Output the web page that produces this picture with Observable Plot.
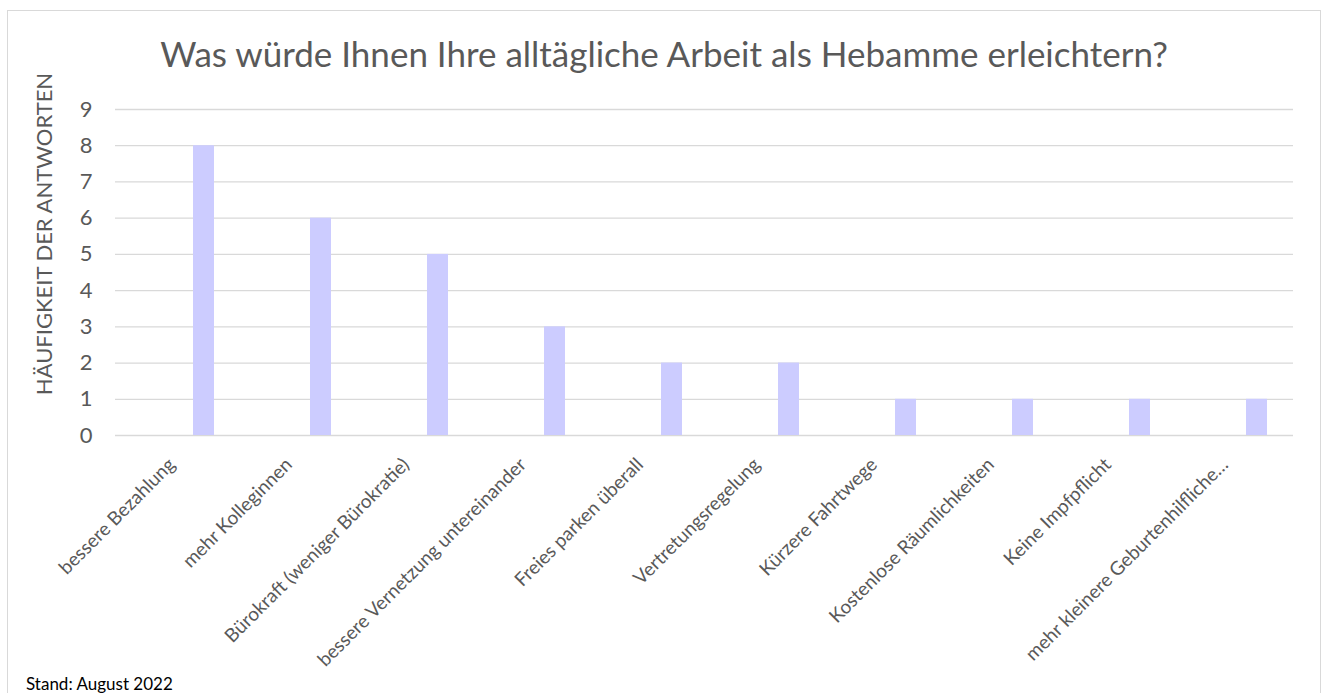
<!DOCTYPE html>
<html>
<head>
<meta charset="utf-8">
<script src="https://cdn.jsdelivr.net/npm/d3@7"></script>
<script src="https://cdn.jsdelivr.net/npm/@observablehq/plot@0.6"></script>
<style>
  html, body { margin: 0; padding: 0; background: #fff; }
  #wrap { position: relative; width: 1328px; height: 693px; overflow: hidden; font-family: Lato, "Open Sans", sans-serif; }
  #frame { position: absolute; left: 7px; top: 10px; width: 1314px; height: 700px; border: 1px solid #d9d9d9; box-sizing: border-box; }
  #title { position: absolute; left: 0; width: 1328px; top: 32px; text-align: center; font-size: 35px; color: #595959; white-space: nowrap; line-height: 1.2; }
  #caption { position: absolute; left: 26px; top: 674px; font-size: 17px; color: #000; line-height: 1.2; }
  #ylabel { position: absolute; left: 44px; top: 234px; transform: translate(-50%, -50%) rotate(-90deg); font-size: 22px; color: #595959; white-space: nowrap; line-height: 1; }
  #chart { position: absolute; left: 0; top: 0; }
</style>
</head>
<body>
<div id="wrap">
  <div id="frame"></div>
  <div id="chart"></div>
  <div id="title"></div>
  <div id="ylabel"></div>
  <div id="caption"></div>
</div>
<script>
const title = "Was würde Ihnen Ihre alltägliche Arbeit als Hebamme erleichtern?";
const caption = "Stand: August 2022";
const yLabel = "HÄUFIGKEIT DER ANTWORTEN";
const categories = [
  "bessere Bezahlung",
  "mehr Kolleginnen",
  "Bürokraft (weniger Bürokratie)",
  "bessere Vernetzung untereinander",
  "Freies parken überall",
  "Vertretungsregelung",
  "Kürzere Fahrtwege",
  "Kostenlose Räumlichkeiten",
  "Keine Impfpflicht",
  "mehr kleinere Geburtenhilfliche…"
];
const counts = [8, 6, 5, 3, 2, 2, 1, 1, 1, 1];
const yTicks = [0, 1, 2, 3, 4, 5, 6, 7, 8, 9];

document.getElementById("title").textContent = title;
document.getElementById("caption").textContent = caption;
document.getElementById("ylabel").textContent = yLabel;

const data = categories.map((c, i) => ({category: c, count: counts[i]}));

const chart = Plot.plot({
  width: 1328,
  height: 693,
  marginLeft: 115,
  marginRight: 35,
  marginTop: 109,
  marginBottom: 258,
  style: {fontFamily: "Lato, 'Open Sans', sans-serif", color: "#595959", background: "transparent"},
  x: {domain: categories, padding: 0, label: null},
  y: {domain: [0, 9], label: null},
  marks: [
    Plot.ruleY(yTicks, {stroke: "#d9d9d9", strokeWidth: 1.3}),
    Plot.barY(data, {x: "category", y: "count", fill: "#ccccff", insetLeft: 74, insetRight: 22}),
    Plot.axisY({ticks: yTicks, tickSize: 0, tickPadding: 23, fontSize: 22, label: null, fill: "#595959"}),
    Plot.axisX({tickSize: 0, tickRotate: -45, tickPadding: 26, dx: -6, fontSize: 19, label: null, fill: "#595959"})
  ]
});
document.getElementById("chart").appendChild(chart);
</script>
</body>
</html>
